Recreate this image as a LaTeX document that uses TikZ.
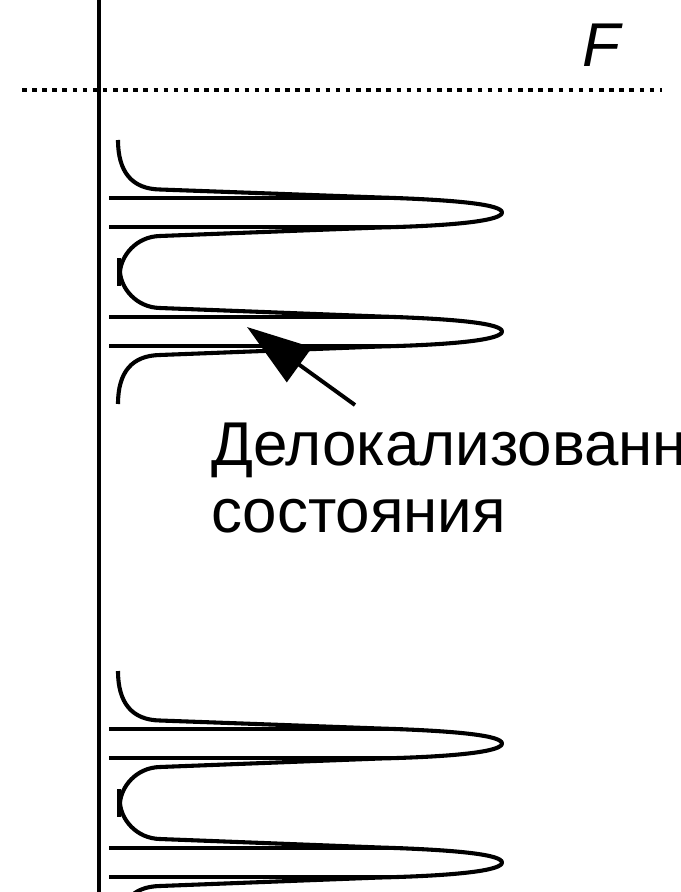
\documentclass[tikz,border=0pt]{standalone}
\usepackage{fontspec}
\setmainfont{Liberation Sans}
\usetikzlibrary{arrows.meta}

\tikzset{
  wave/.style={line width=2.9pt, line join=round},
  level/.style={line width=3pt},
  axisline/.style={line width=3pt},
  fermi/.style={line width=3.2pt, dash pattern=on 3.2pt off 4pt},
  pointer/.style={line width=2.8pt, -{Triangle[length=46pt, width=30pt]}},
  bigtext/.style={inner sep=0pt, anchor=base west, font=\fontsize{44}{50}\selectfont}
}

\begin{document}
\begin{tikzpicture}[x=0.025cm, y=-0.025cm]
  \useasboundingbox (0,0) rectangle (680,892);
  \begin{scope}
  \clip (0,0) rectangle (680,892);

  % Axis and Fermi level
  \draw[axisline] (99,0) -- (99,892);
  \draw[fermi] (22,90) -- (662,90);
  \node[bigtext, font=\fontsize{44}{50}\selectfont\itshape] (fermiF) at (582,67) {F};

  % Two bands of delocalized states
  \foreach \g in {0,531}{
    \begin{scope}[shift={(0,\g)}]
      % levels
      \draw[level] (109,198) -- (403,198);
      \draw[level] (109,227) -- (403,227);
      \draw[level] (109,317) -- (403,317);
      \draw[level] (109,346) -- (403,346);
      % density profile
      \draw[wave] (118,140) .. controls (118,172) and (132,189) .. (160,189.5)
        -- (380,197.5) .. controls (462,200) and (502,205) .. (502,212.5)
        .. controls (502,220) and (462,225.5) .. (380,227.5)
        -- (160,236) .. controls (136,236.5) and (121,256) .. (120,272)
        .. controls (121,288) and (136,307.5) .. (160,308)
        -- (380,316.5) .. controls (462,319) and (502,324) .. (502,331.5)
        .. controls (502,339) and (462,344.5) .. (380,346.5)
        -- (160,355) .. controls (132,355.5) and (118,372) .. (118,404);
      \draw[line width=3.5pt] (119,258) -- (119,286);
    \end{scope}
  }

  % Label
  \node[bigtext] (deloc) at (211,465) {Делокализованные};
  \node[bigtext] (states) at (211,532) {состояния};
  \coordinate (tail) at (355,405);
  \coordinate (head) at (247,327);
  \draw[pointer] (tail) -- (head);
  \end{scope}
\end{tikzpicture}
\end{document}
